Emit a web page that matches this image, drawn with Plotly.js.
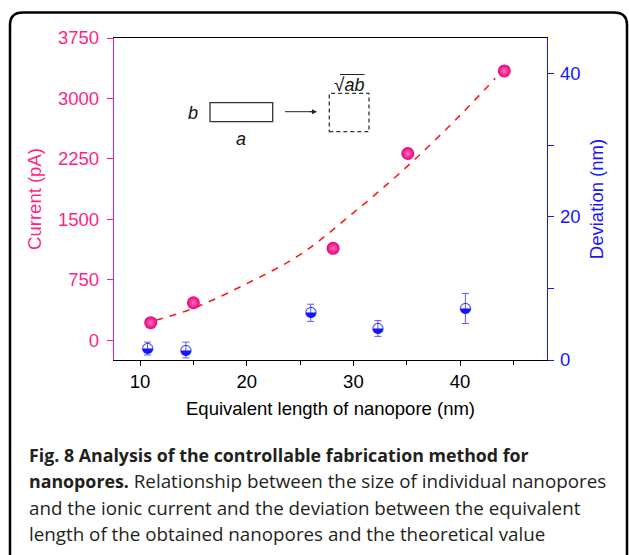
<!DOCTYPE html>
<html>
<head>
<meta charset="utf-8">
<script src="https://cdn.plot.ly/plotly-3.0.1.min.js"></script>
<style>
html, body { margin: 0; padding: 0; background: #ffffff; }
#chart { width: 629px; height: 555px; }
</style>
</head>
<body>
<div id="chart"></div>
<script>
// ---- data ----
const xCurrent = [11.0, 15.0, 28.1, 35.1, 44.15];
const current = [215, 463, 1138, 2316, 3341];

const xDeviation = [10.7, 14.3, 26.0, 32.3, 40.5];
const deviation = [1.6, 1.4, 6.6, 4.4, 7.2];
const deviationErr = [0.9, 1.1, 1.2, 1.1, 2.1];

const fitX = [11.5, 15, 20, 25, 30, 35, 40, 43.3];
const fitY = [245, 395, 700, 1060, 1580, 2150, 2790, 3250];

const currentTicks = [0, 750, 1500, 2250, 3000, 3750];
const deviationTicks = [0, 20, 40];
const lengthTicks = [10, 20, 30, 40];

const captionLines = [
  '<span style="font-size:17.8px"><b>Fig. 8 Analysis of the controllable fabrication method for</b></span>',
  '<span style="font-size:17.8px"><b>nanopores.</b></span> Relationship between the size of individual nanopores',
  'and the ionic current and the deviation between the equivalent',
  'length of the obtained nanopores and the theoretical value'
];

// ---- styling ----
const PINK = '#ff1f87';
const SPHERE = '#e8007c';
const BLUE = '#1515ff';
const AXFONT = 'Liberation Sans, Arial, sans-serif';
const CAPFONT = 'Open Sans, sans-serif';
const FS = 18.5;

const W = 629, H = 555;
const M = {l: 114, r: 82, t: 38, b: 195};
const PW = W - M.l - M.r, PH = H - M.t - M.b;
// pixel -> paper helpers for decorations
const px = x => (x - M.l) / PW;
const py = y => (H - M.b - y) / PH;

const traces = [
  {
    x: fitX, y: fitY, type: 'scatter', mode: 'lines',
    line: {color: '#ff1a1a', width: 1.6, dash: '7px,7px', shape: 'spline'},
    hoverinfo: 'skip', showlegend: false
  },
  {
    x: xCurrent, y: current, type: 'scatter', mode: 'markers',
    marker: {size: 13, color: SPHERE, gradient: {type: 'radial', color: '#ff6fb5'}, line: {width: 0}},
    showlegend: false
  },
  {
    x: xDeviation, y: deviation, yaxis: 'y2', type: 'scatter', mode: 'text',
    text: xDeviation.map(() => '◒'), textposition: 'middle center',
    textfont: {family: 'DejaVu Sans', size: 14.5, color: BLUE},
    error_y: {type: 'data', array: deviationErr, visible: true, color: '#5a5aff', thickness: 1, width: 3.5},
    showlegend: false
  }
];

const shapes = [
  // inset: rectangle a x b
  {type: 'rect', xref: 'paper', yref: 'paper', x0: px(210), x1: px(272.7), y0: py(121.7), y1: py(102.7),
   line: {color: '#333333', width: 1.3}},
  // inset: arrow shaft
  {type: 'line', xref: 'paper', yref: 'paper', x0: px(285), x1: px(314), y0: py(111.7), y1: py(111.7),
   line: {color: '#222222', width: 1}},
  // inset: dashed square
  {type: 'rect', xref: 'paper', yref: 'paper', x0: px(329.3), x1: px(369), y0: py(131.7), y1: py(93.3),
   line: {color: '#333333', width: 1.3, dash: '4px,3px'}},
  // overline of sqrt
  {type: 'line', xref: 'paper', yref: 'paper', x0: px(340), x1: px(364.5), y0: py(74.5), y1: py(74.5),
   line: {color: '#222222', width: 1}},
  // outer rounded frame
  {type: 'path', xref: 'paper', yref: 'paper',
   path: 'M ' + px(10) + ',' + py(560) + ' L ' + px(10) + ',' + py(25) +
         ' Q ' + px(10) + ',' + py(12.5) + ' ' + px(23) + ',' + py(12.5) +
         ' L ' + px(614) + ',' + py(12.5) +
         ' Q ' + px(627) + ',' + py(12.5) + ' ' + px(627) + ',' + py(25) +
         ' L ' + px(627) + ',' + py(560),
   line: {color: '#000000', width: 2.5}}
];

const annotations = [
  {xref: 'paper', yref: 'paper', x: px(192.7), y: py(113.3), xanchor: 'center', yanchor: 'middle',
   text: '<i>b</i>', showarrow: false, font: {family: AXFONT, size: 18, color: '#111111'}},
  {xref: 'paper', yref: 'paper', x: px(240.7), y: py(139), xanchor: 'center', yanchor: 'middle',
   text: '<i>a</i>', showarrow: false, font: {family: AXFONT, size: 18, color: '#111111'}},
  {xref: 'paper', yref: 'paper', x: px(349), y: py(84), xanchor: 'center', yanchor: 'middle',
   text: '<span style="font-size:19px">√</span><i>ab</i>', showarrow: false,
   font: {family: AXFONT, size: 18, color: '#111111'}},
  // arrow head
  {xref: 'paper', yref: 'paper', axref: 'paper', ayref: 'paper',
   x: px(317), y: py(111.7), ax: px(308), ay: py(111.7), text: '', showarrow: true,
   arrowhead: 2, arrowsize: 1, arrowwidth: 1, arrowcolor: '#222222', standoff: 0}
];

captionLines.forEach((t, i) => {
  annotations.push({
    xref: 'paper', yref: 'paper', x: px(27), y: py(455 + i * 26.3),
    xanchor: 'left', yanchor: 'middle', align: 'left', showarrow: false,
    text: t, font: {family: CAPFONT, size: 18.8, color: '#231f20'}
  });
});

const layout = {
  width: W, height: H,
  margin: M,
  paper_bgcolor: '#ffffff', plot_bgcolor: '#ffffff',
  showlegend: false,
  xaxis: {
    range: [7.56, 48.15], tickvals: lengthTicks, ticktext: lengthTicks.map(String),
    ticks: 'outside', ticklen: 5, tickwidth: 1, tickcolor: '#000000',
    minor: {tickvals: [15, 25, 35, 45], ticks: 'outside', ticklen: 4, tickcolor: '#000000', tickwidth: 1, showgrid: false},
    showline: true, linecolor: '#000000', linewidth: 1.2, mirror: true,
    showgrid: false, zeroline: false,
    tickfont: {family: AXFONT, size: FS, color: '#000000'},
    title: {text: 'Equivalent length of nanopore (nm)', font: {family: AXFONT, size: FS, color: '#000000'}, standoff: 10}
  },
  yaxis: {
    range: [-248, 3750], tickvals: currentTicks, ticktext: currentTicks.map(String),
    ticks: 'outside', ticklen: 6, tickwidth: 1, tickcolor: PINK, ticklabelstandoff: 4,
    showline: true, linecolor: PINK, linewidth: 1.2,
    showgrid: false, zeroline: false,
    tickfont: {family: AXFONT, size: FS, color: PINK},
    title: {text: 'Current (pA)', font: {family: AXFONT, size: FS, color: PINK}, standoff: 11}
  },
  yaxis2: {
    overlaying: 'y', side: 'right', anchor: 'x',
    range: [0, 45], tickvals: deviationTicks, ticktext: deviationTicks.map(String),
    ticks: 'outside', ticklen: 6, tickwidth: 1, tickcolor: BLUE, ticklabelstandoff: 2,
    minor: {tickvals: [10, 30], ticks: 'outside', ticklen: 6, tickcolor: BLUE, tickwidth: 1, showgrid: false},
    showline: true, linecolor: BLUE, linewidth: 1.2,
    showgrid: false, zeroline: false,
    tickfont: {family: AXFONT, size: FS, color: BLUE},
    title: {text: 'Deviation (nm)', font: {family: AXFONT, size: FS, color: BLUE}, standoff: 10}
  },
  shapes: shapes,
  annotations: annotations
};

Plotly.newPlot('chart', traces, layout, {staticPlot: true, displayModeBar: false});
</script>
</body>
</html>
